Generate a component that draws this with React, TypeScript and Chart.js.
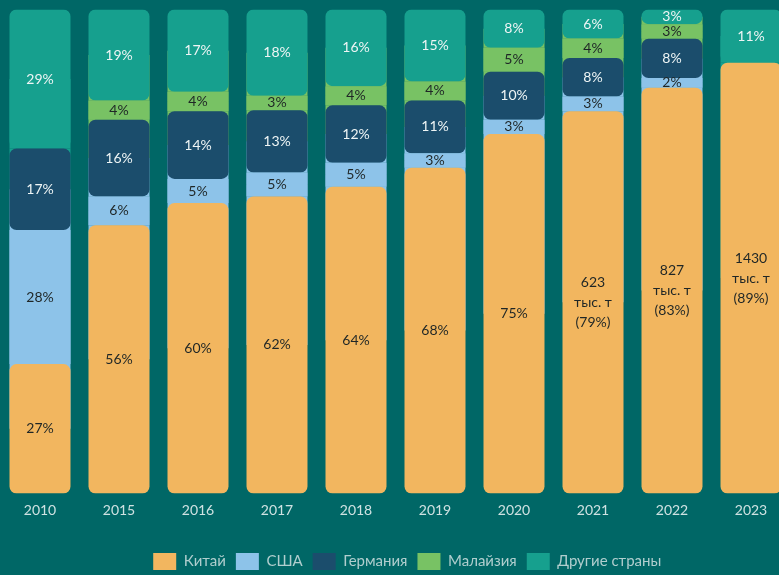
import React, { useEffect, useRef } from "react";
import { Chart, registerables } from "chart.js";

Chart.register(...registerables);

// ---- data ----
const years = ["2010", "2015", "2016", "2017", "2018", "2019", "2020", "2021", "2022", "2023"];
const china = [27, 56, 60, 62, 64, 68, 75, 79, 83, 89];
const usa = [28, 6, 5, 5, 5, 3, 3, 3, 2, 0];
const germany = [17, 16, 14, 13, 12, 11, 10, 8, 8, 0];
const malaysia = [0, 4, 4, 3, 4, 4, 5, 4, 3, 0];
const others = [29, 19, 17, 18, 16, 15, 8, 6, 3, 11];
const chinaVolume: (number | null)[] = [null, null, null, null, null, null, null, 623, 827, 1430];
const volumeUnit = "тыс. т";
const seriesNames = ["Китай", "США", "Германия", "Малайзия", "Другие страны"];

// ---- styles ----
const BG = "#006766";
const colors = ["#F2B65F", "#8DC3E9", "#1B4D6C", "#78C264", "#16A08E"];
const rounded = [true, false, true, false, true];
const labelColors = ["#1f2626", "#1f2626", "#EEF5F5", "#1f2626", "#EEF5F5"];
const FONT = "Lato, 'Open Sans', sans-serif";

const series = [china, usa, germany, malaysia, others];

// cumulative spans normalised to 100 for each category
const spans: [number, number][][] = years.map((_, i) => {
  const total = series.reduce((a, s) => a + s[i], 0);
  let acc = 0;
  return series.map((s) => {
    const lo = (acc / total) * 100;
    acc += s[i];
    return [lo, (acc / total) * 100] as [number, number];
  });
});

const BAR_PCT = 0.772;

function buildDatasets() {
  const top = series.map((s, k) => ({
    label: seriesNames[k],
    data: years.map((_, i) => (s[i] > 0 ? spans[i][k] : null)),
    backgroundColor: colors[k],
    borderWidth: 0,
    borderRadius: rounded[k] ? 7 : 0,
    borderSkipped: false,
    grouped: false,
    categoryPercentage: 1,
    barPercentage: BAR_PCT,
  }));
  const base: any[] = [];
  series.forEach((s, k) => {
    for (let h = 0; h < 2; h++) {
      const data = years.map((_, i) => {
        if (!(s[i] > 0)) return null;
        const [lo, hi] = spans[i][k];
        const mid = (lo + hi) / 2;
        return h === 0 ? [lo, mid] : [mid, hi];
      });
      const bg = years.map((_, i) => {
        if (!rounded[k]) return colors[k];
        if (h === 1) {
          for (let j = k + 1; j < series.length; j++) if (series[j][i] > 0) return colors[j];
          return "rgba(0,0,0,0)";
        }
        for (let j = k - 1; j >= 0; j--) {
          if (series[j][i] > 0) return rounded[j] ? colors[k] : colors[j];
        }
        return "rgba(0,0,0,0)";
      });
      base.push({
        label: "base",
        data,
        backgroundColor: bg,
        borderWidth: 0,
        borderRadius: 0,
        grouped: false,
        categoryPercentage: 1,
        barPercentage: BAR_PCT,
      });
    }
  });
  return [...top, ...base];
}

const labelPlugin = {
  id: "segmentLabels",
  afterDatasetDraw(chart: any, args: any) {
    const k = args.index;
    if (k >= series.length) return;
    const ctx = chart.ctx;
    const meta = args.meta;
    ctx.save();
    ctx.font = `14px ${FONT}`;
    ctx.textAlign = "center";
    ctx.textBaseline = "middle";
    ctx.fillStyle = labelColors[k];
    meta.data.forEach((el: any, i: number) => {
      const v = series[k][i];
      if (!(v > 0)) return;
      const { x, y, base } = el.getProps(["x", "y", "base"], true);
      const yc = (y + base) / 2;
      const vol = chinaVolume[i];
      const lines = k === 0 && vol != null ? [String(vol), volumeUnit, `(${v}%)`] : [`${v}%`];
      const lh = 20;
      lines.forEach((t, j) => ctx.fillText(t, x, yc + (j - (lines.length - 1) / 2) * lh));
    });
    ctx.restore();
  },
};

export default function App() {
  const ref = useRef<HTMLCanvasElement | null>(null);
  useEffect(() => {
    document.body.style.margin = "0";
    document.body.style.background = BG;
    document.body.style.overflow = "hidden";
    const canvas = ref.current!;
    const chart = new Chart(canvas, {
      type: "bar",
      data: { labels: years, datasets: buildDatasets() as any },
      plugins: [labelPlugin],
      options: {
        responsive: false,
        animation: false,
        devicePixelRatio: 1,
        layout: { padding: { top: 9.5, left: 0.5, right: 0, bottom: 0 } },
        plugins: {
          tooltip: { enabled: false },
          legend: {
            position: "bottom",
            labels: {
              boxWidth: 23,
              boxHeight: 17,
              padding: 10,
              color: "#B0CECE",
              font: { size: 15, family: FONT },
              filter: (item: any) => item.datasetIndex < series.length,
            },
          },
        },
        scales: {
          x: {
            grid: { display: false, drawTicks: false },
            border: { display: false },
            ticks: { color: "#CFE2E2", font: { size: 14, family: FONT }, padding: 9 },
            afterFit: (s: any) => {
              s.height = 49.5;
            },
          },
          y: {
            position: "right",
            min: 0,
            max: 100,
            grid: { display: false, drawTicks: false },
            border: { display: false },
            ticks: { display: false },
            afterFit: (s: any) => {
              s.width = 23.5;
            },
          },
        },
      },
    });
    return () => chart.destroy();
  }, []);
  return (
    <div style={{ width: 779, height: 575, overflow: "hidden", background: BG, position: "relative" }}>
      <canvas ref={ref} width={814} height={580} style={{ display: "block", width: 814, height: 580 }} />
    </div>
  );
}
